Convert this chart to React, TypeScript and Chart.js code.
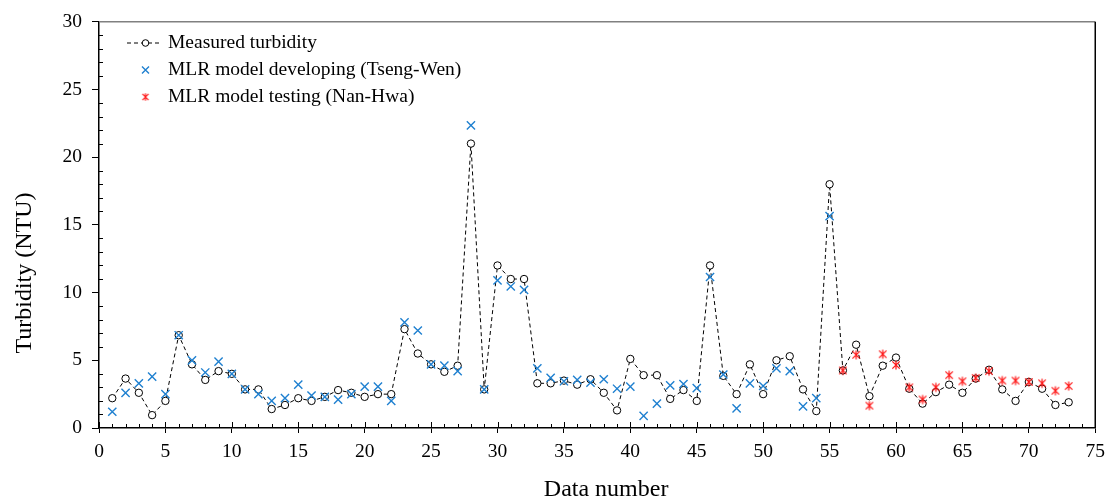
import React, { useEffect, useRef } from "react";
import { Chart, registerables } from "chart.js";

Chart.register(...registerables);

// ---- Data ----
const measuredTurbidity: number[] = [
  2.2, 3.65, 2.6, 0.95, 2.0, 6.85, 4.7, 3.55, 4.2, 4.0,
  2.85, 2.85, 1.4, 1.7, 2.2, 2.0, 2.3, 2.8, 2.6, 2.3,
  2.5, 2.5, 7.3, 5.5, 4.7, 4.15, 4.6, 21.0, 2.85, 12.0,
  11.0, 11.0, 3.3, 3.3, 3.5, 3.2, 3.6, 2.6, 1.3, 5.1,
  3.9, 3.9, 2.15, 2.8, 2.0, 12.0, 3.85, 2.5, 4.7, 2.5,
  5.0, 5.3, 2.85, 1.25, 18.0, 4.25, 6.15, 2.35, 4.6, 5.2,
  2.9, 1.8, 2.65, 3.2, 2.6, 3.65, 4.3, 2.85, 2.0, 3.4,
  2.9, 1.7, 1.9,
];
const mlrTsengWen: number[] = [
  1.2, 2.6, 3.3, 3.8, 2.5, 6.85, 5.0, 4.1, 4.9, 4.0,
  2.85, 2.5, 2.0, 2.2, 3.2, 2.4, 2.3, 2.1, 2.5, 3.05,
  3.05, 2.0, 7.8, 7.2, 4.7, 4.6, 4.2, 22.35, 2.85, 10.9,
  10.45, 10.2, 4.4, 3.7, 3.45, 3.55, 3.35, 3.6, 2.9, 3.05,
  0.9, 1.8, 3.15, 3.25, 2.95, 11.15, 3.95, 1.45, 3.3, 3.1,
  4.4, 4.2, 1.6, 2.2, 15.65,
];
const mlrNanHwa: number[] = [
  4.25, 5.4, 1.65, 5.45, 4.65, 3.0, 2.1, 3.0, 3.9, 3.45,
  3.7, 4.2, 3.5, 3.5, 3.4, 3.3, 2.75, 3.1,
];
const tsengWenStart = 1;
const nanHwaStart = 56;
const seriesLabels = [
  "Measured turbidity",
  "MLR model developing (Tseng-Wen)",
  "MLR model testing (Nan-Hwa)",
];
const xTitle = "Data number";
const yTitle = "Turbidity (NTU)";
const xRange = [0, 75];
const yRange = [0, 30];
const majorStep = 5;

const FONT = "'Liberation Serif', 'Times New Roman', serif";
const BLUE = "#1f80d0";
const RED = "#ff1010";

function makeAsterisk(color: string, r: number, lw: number): HTMLCanvasElement {
  const size = Math.ceil(r * 2 + 4);
  const c = document.createElement("canvas");
  c.width = size;
  c.height = size;
  const g = c.getContext("2d")!;
  const m = size / 2;
  g.strokeStyle = color;
  g.lineWidth = lw;
  g.beginPath();
  g.moveTo(m, m - r);
  g.lineTo(m, m + r);
  const d = r * 0.8;
  g.moveTo(m - d, m - d);
  g.lineTo(m + d, m + d);
  g.moveTo(m - d, m + d);
  g.lineTo(m + d, m - d);
  g.stroke();
  return c;
}

function drawCross(ctx: CanvasRenderingContext2D, cx: number, cy: number, r: number, color: string) {
  ctx.save();
  ctx.strokeStyle = color;
  ctx.lineWidth = 1.4;
  ctx.beginPath();
  ctx.moveTo(cx - r, cy - r);
  ctx.lineTo(cx + r, cy + r);
  ctx.moveTo(cx - r, cy + r);
  ctx.lineTo(cx + r, cy - r);
  ctx.stroke();
  ctx.restore();
}

const decorPlugin = {
  id: "decor",
  afterDraw(chart: any) {
    const { ctx, chartArea } = chart;
    const { left, right, top, bottom } = chartArea;
    const xs = chart.scales.x;
    const ys = chart.scales.y;
    ctx.save();
    // frame (top + right)
    ctx.lineWidth = 1.5;
    ctx.strokeStyle = "#808080";
    ctx.beginPath();
    ctx.moveTo(left, top);
    ctx.lineTo(right, top);
    ctx.stroke();
    ctx.strokeStyle = "#000";
    ctx.beginPath();
    ctx.moveTo(right, top);
    ctx.lineTo(right, bottom);
    ctx.stroke();

    // inner ticks
    ctx.lineWidth = 1;
    ctx.strokeStyle = "#000";
    ctx.beginPath();
    for (let v = xs.min; v <= xs.max; v++) {
      const px = Math.round(xs.getPixelForValue(v)) + 0.5;
      const len = v % majorStep === 0 ? 6 : 4;
      ctx.moveTo(px, bottom);
      ctx.lineTo(px, bottom - len);
    }
    for (let v = ys.min + 1; v < ys.max; v++) {
      if (v % majorStep === 0) continue;
      const py = Math.round(ys.getPixelForValue(v)) + 0.5;
      ctx.moveTo(left, py);
      ctx.lineTo(left + 4, py);
    }
    ctx.stroke();

    // axis titles
    ctx.fillStyle = "#000";
    ctx.font = `24px ${FONT}`;
    ctx.textAlign = "center";
    ctx.textBaseline = "alphabetic";
    ctx.fillText(xTitle, (left + right) / 2 + 9, 496);
    ctx.save();
    ctx.translate(31, 273);
    ctx.rotate(-Math.PI / 2);
    ctx.fillText(yTitle, 0, 0);
    ctx.restore();

    // legend
    const lx0 = 127;
    const lx1 = 160;
    const mx = 145.5;
    const tx = 168;
    const rows = [43, 70, 97];
    ctx.font = `19.5px ${FONT}`;
    ctx.textAlign = "left";
    ctx.textBaseline = "middle";
    // row 1
    ctx.save();
    ctx.strokeStyle = "#000";
    ctx.lineWidth = 1;
    ctx.setLineDash([4, 3]);
    ctx.beginPath();
    ctx.moveTo(lx0, rows[0]);
    ctx.lineTo(lx1, rows[0]);
    ctx.stroke();
    ctx.setLineDash([]);
    ctx.fillStyle = "#fff";
    ctx.beginPath();
    ctx.arc(mx, rows[0], 3.3, 0, Math.PI * 2);
    ctx.fill();
    ctx.stroke();
    ctx.restore();
    ctx.fillText(chart.data.datasets[0].label, tx, rows[0]);
    // row 2
    drawCross(ctx, mx, rows[1], 3.5, BLUE);
    ctx.fillText(chart.data.datasets[1].label, tx, rows[1]);
    // row 3
    const ast = makeAsterisk(RED, 3.8, 1.1);
    ctx.drawImage(ast, mx - ast.width / 2, rows[2] - ast.height / 2);
    ctx.fillText(chart.data.datasets[2].label, tx, rows[2]);

    ctx.restore();
  },
};

export default function App() {
  const ref = useRef<HTMLCanvasElement | null>(null);

  useEffect(() => {
    document.body.style.margin = "0";
    if (!ref.current) return;
    const asterisk = makeAsterisk(RED, 4.6, 1.2);

    const chart = new Chart(ref.current, {
      type: "scatter",
      data: {
        datasets: [
          {
            label: seriesLabels[0],
            data: measuredTurbidity.map((v, i) => ({ x: i + 1, y: v })),
            showLine: true,
            borderColor: "#000",
            borderWidth: 1,
            borderDash: [4, 3],
            pointStyle: "circle",
            pointRadius: 3.7,
            pointBorderWidth: 1,
            pointBackgroundColor: "#fff",
            pointBorderColor: "#000",
            order: 3,
          },
          {
            label: seriesLabels[1],
            data: mlrTsengWen.map((v, i) => ({ x: i + tsengWenStart, y: v })),
            showLine: false,
            pointStyle: "cross",
            rotation: 45,
            pointRadius: 5.8,
            pointBorderWidth: 1.4,
            pointBorderColor: BLUE,
            pointBackgroundColor: BLUE,
            borderColor: BLUE,
            order: 2,
          } as any,
          {
            label: seriesLabels[2],
            data: mlrNanHwa.map((v, i) => ({ x: i + nanHwaStart, y: v })),
            showLine: false,
            pointStyle: asterisk,
            pointRadius: 5,
            borderColor: RED,
            backgroundColor: RED,
            order: 1,
          } as any,
        ],
      },
      options: {
        responsive: false,
        animation: false,
        events: [],
        layout: { padding: { left: 0, top: 20, right: 13, bottom: 0 } },
        plugins: {
          legend: { display: false },
          tooltip: { enabled: false },
        },
        scales: {
          x: {
            type: "linear",
            min: xRange[0],
            max: xRange[1],
            afterFit: (s: any) => {
              s.height = 75;
            },
            ticks: {
              stepSize: majorStep,
              color: "#000",
              padding: 7,
              font: { family: FONT, size: 19.5 },
            },
            grid: {
              drawOnChartArea: false,
              drawTicks: true,
              tickLength: 5,
              color: "#000",
              lineWidth: 1,
            },
            border: { display: true, color: "#000", width: 1.5 },
          },
          y: {
            type: "linear",
            min: yRange[0],
            max: yRange[1],
            afterFit: (s: any) => {
              s.width = 99;
            },
            ticks: {
              stepSize: majorStep,
              color: "#000",
              padding: 10,
              font: { family: FONT, size: 19.5 },
            },
            grid: {
              drawOnChartArea: false,
              drawTicks: true,
              tickLength: 7,
              color: "#000",
              lineWidth: 1,
            },
            border: { display: true, color: "#000", width: 1.5 },
          },
        },
      },
      plugins: [decorPlugin],
    });
    return () => chart.destroy();
  }, []);

  return (
    <div style={{ width: 1112, height: 503, background: "#fff" }}>
      <canvas ref={ref} width={1112} height={503} style={{ display: "block" }} />
    </div>
  );
}
